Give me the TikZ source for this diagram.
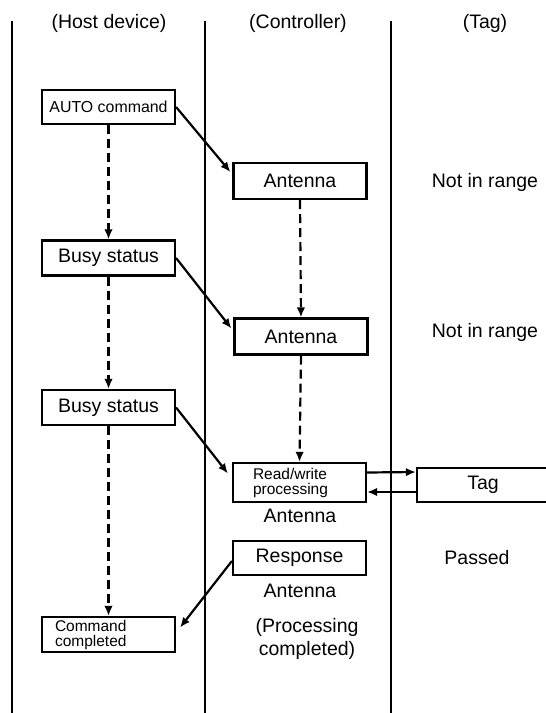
\documentclass[tikz,border=0pt]{standalone}
\usepackage{fontspec}
\setmainfont{Liberation Sans}
\usetikzlibrary{arrows.meta}
\begin{document}
\begin{tikzpicture}[x=1pt,y=-1pt,
  lane/.style={line width=2.2pt},
  box/.style={draw,line width=2.2pt,minimum width=133pt,minimum height=35pt,inner sep=0pt,font=\fontsize{19.5}{22}\selectfont},
  smallbox/.style={draw,line width=2.2pt,minimum width=133pt,inner ysep=0pt,font=\fontsize{15.5}{15}\selectfont,align=left},
  lbl/.style={font=\fontsize{19.5}{23}\selectfont,inner sep=0pt},
  flow/.style={line width=2.2pt,-{Latex[length=10pt,width=8.5pt]}},
  wait/.style={line width=2.2pt,dash pattern=on 9pt off 5pt,-{Latex[length=10pt,width=8.5pt]}}]
\useasboundingbox (0,0) rectangle (546,713);
\fill[white] (0,0) rectangle (546,713);
% lanes
\coordinate (l1t) at (12,21); \coordinate (l1b) at (12,713);
\coordinate (l2t) at (205,21); \coordinate (l2b) at (205,713);
\coordinate (l3t) at (391,21); \coordinate (l3b) at (391,713);
\draw[lane] (l1t) -- (l1b);
\draw[lane] (l2t) -- (l2b);
\draw[lane] (l3t) -- (l3b);
% headers
\node[lbl] (hhost) at (109,23) {(Host device)};
\node[lbl] (hctrl) at (298,23) {(Controller)};
\node[lbl] (htag) at (485,23) {(Tag)};
% host column
\node[box,minimum height=34pt,font=\fontsize{15.9}{18}\selectfont] (auto) at (108.5,107) {AUTO command};
\node[box] (busy1) at (108.5,258) {Busy status};
\node[box] (busy2) at (108.5,407.5) {Busy status};
\node[smallbox,text width=107pt,inner xsep=13pt,minimum height=35pt] (cc) at (108.5,634.5) {Command\\completed};
% controller column
\node[box,minimum height=36pt] (ant1) at (300,181) {Antenna};
\node[box,minimum height=36pt] (ant2) at (301,336.5) {Antenna};
\node[smallbox,text width=93pt,inner xsep=20pt,minimum height=39pt] (rw) at (299.5,482.5) {Read/write\\processing};
\node[lbl] (rwant) at (300,516) {Antenna};
\node[box,minimum height=34pt] (resp) at (299.5,558) {Response};
\node[lbl] (respant) at (300,591) {Antenna};
\node[lbl,align=center] (pc) at (307,639) {(Processing\\completed)};
% tag column
\node[lbl] (nr1) at (485,182) {Not in range};
\node[lbl] (nr2) at (485,332) {Not in range};
\node[box,minimum width=132pt,minimum height=34pt] (tag) at (483,485) {Tag};
\node[lbl] (passed) at (477,558) {Passed};
% waiting (dashed) arrows
\draw[wait] (auto.south) -- (busy1.north);
\draw[wait] (busy1.south) -- (busy2.north);
\draw[wait] (busy2.south) -- (cc.north);
\draw[wait] (ant1.south) -- (ant2.north);
\draw[wait] (ant2.south) -- (rw.north);
% message arrows
\draw[flow] (auto.east) -- ([yshift=9pt,xshift=-2pt]ant1.west);
\draw[flow] (busy1.east) -- ([yshift=8pt,xshift=-2pt]ant2.west);
\draw[flow] (busy2.east) -- ([yshift=9pt,xshift=-4pt]rw.west);
\draw[flow] ([yshift=10pt]rw.east) -- ([yshift=13pt]tag.west);
\draw[flow] ([yshift=-7pt]tag.west) -- ([yshift=-9.5pt]rw.east);
\draw[flow] ([yshift=-3pt]resp.west) -- ([yshift=7pt,xshift=4pt]cc.east);
\end{tikzpicture}
\end{document}
